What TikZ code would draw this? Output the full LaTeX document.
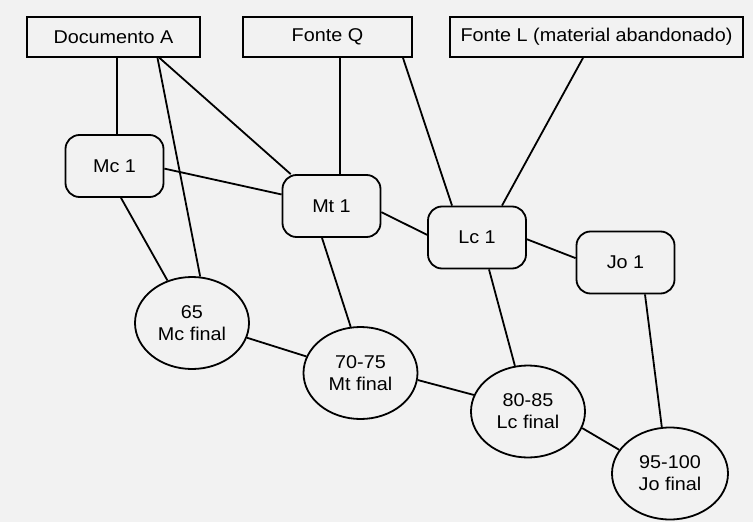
\documentclass[tikz,border=0pt]{standalone}
\usepackage{fontspec}
\setmainfont{Liberation Sans}[FakeStretch=1.07]
\usepackage{tikz}
\usetikzlibrary{shapes.geometric}

\begin{document}
\begin{tikzpicture}[x=1pt,y=-1pt,line width=1.8pt]
\tikzstyle{every node}=[inner sep=0pt, font=\fontsize{18.5}{22}\selectfont, align=center]
\tikzstyle{source}=[draw, rectangle, minimum height=40pt]
\tikzstyle{draft}=[draw, rectangle, rounded corners=14pt, minimum width=98pt, minimum height=62pt]
\tikzstyle{final}=[draw, ellipse, minimum width=114pt, minimum height=92pt]
\fill[black!5] (0,0) rectangle (753,522);
\useasboundingbox (0,0) rectangle (753,522);
\draw (113.5,37) node (docA) [source, minimum width=173pt] {Documento A};
\draw (327.5,37) node (fQ) [source, minimum width=169pt] {Fonte Q};
\draw (596.5,37) node (fL) [source, minimum width=293pt] {Fonte L (material abandonado)};
\draw (114.5,166) node (mc1) [draft] {Mc 1};
\draw (331.5,206) node (mt1) [draft] {Mt 1};
\draw (477,237.5) node (lc1) [draft] {Lc 1};
\draw (625.5,262.5) node (jo1) [draft] {Jo 1};
\draw (192,323) node (mcf) [final] {65\\Mc final};
\draw (360.5,373) node (mtf) [final] {70-75\\Mt final};
\draw (528,411.5) node (lcf) [final] {80-85\\Lc final};
\draw (670,473.5) node (jof) [final, minimum width=116pt] {95-100\\Jo final};
\draw ([xshift=3.5pt]docA.south) -- ([xshift=2.5pt]mc1.north);
\draw ([xshift=44pt]docA.south) -- (mcf.80);
\draw ([xshift=46pt]docA.south) -- (mt1.142);
\draw ([xshift=12.5pt]fQ.south) -- ([xshift=8.5pt]mt1.north);
\draw ([xshift=75.5pt]fQ.south) -- ([xshift=-25pt]lc1.north);
\draw ([xshift=-13.5pt]fL.south) -- ([xshift=25pt]lc1.north);
\draw (mc1.-3) -- (mt1.167);
\draw ([xshift=6.5pt]mc1.south) -- (mcf.120);
\draw ([xshift=-9.5pt]mt1.south) -- (mtf.102);
\draw (mt1.-7) -- (lc1.177);
\draw (lc1.-2) -- (jo1.175);
\draw ([xshift=12pt]lc1.south) -- (lcf.106);
\draw ([xshift=19.5pt]jo1.south) -- (jof.100);
\draw (mcf.-15) -- (mtf.163);
\draw (mtf.-7) -- (lcf.163);
\draw (lcf.-17) -- (jof.155);
\end{tikzpicture}
\end{document}
